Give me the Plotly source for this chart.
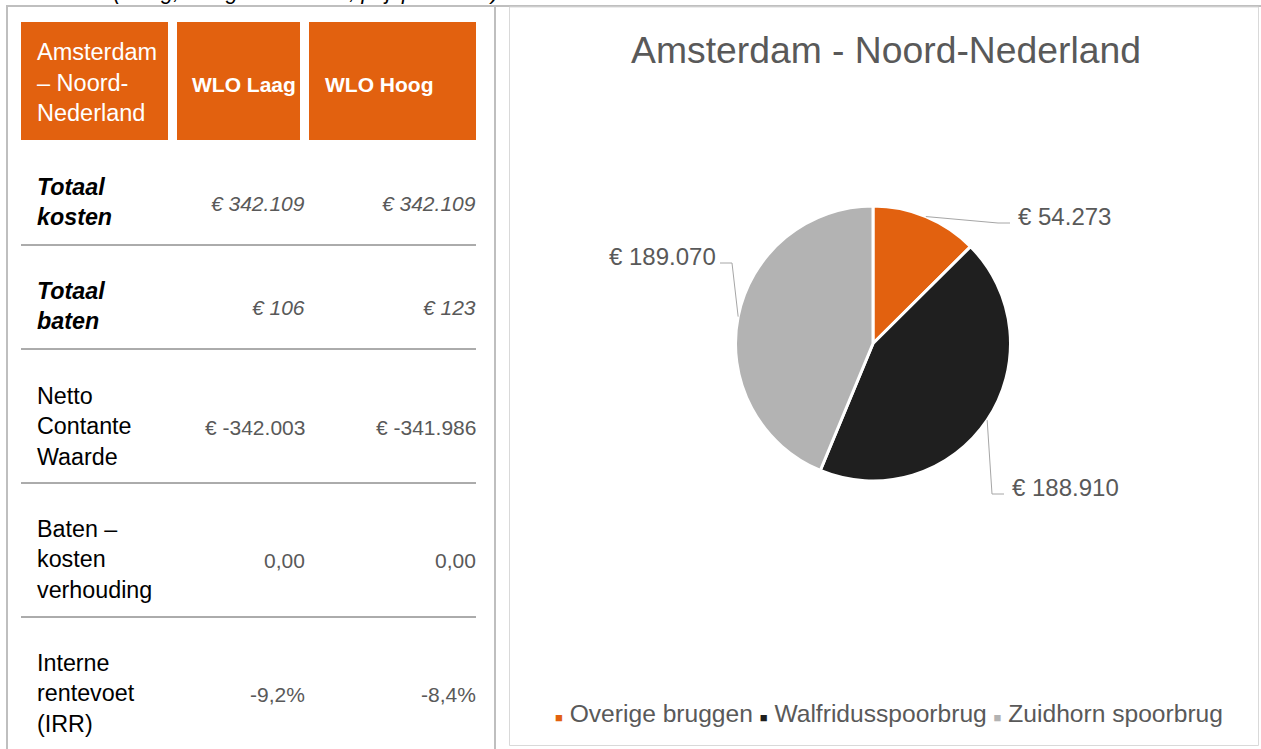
import math
import plotly.graph_objects as go

W, H = 1261, 749

# ---- table data ----
header = ["Amsterdam<br>– Noord-<br>Nederland", "WLO Laag", "WLO Hoog"]
row_labels = ["Totaal<br>kosten", "Totaal<br>baten", "Netto<br>Contante<br>Waarde",
              "Baten –<br>kosten<br>verhouding", "Interne<br>rentevoet<br>(IRR)"]
wlo_laag = [342109, 106, -342003, 0.00, -9.2]
wlo_hoog = [342109, 123, -341986, 0.00, -8.4]
row_kind = ["euro", "euro", "euro", "ratio", "pct"]

# ---- pie data ----
bridges = ["Overige bruggen", "Walfridusspoorbrug", "Zuidhorn spoorbrug"]
costs = [54273, 188910, 189070]

ORANGE = "#E2610F"
colors = [ORANGE, "#1F1F1F", "#B3B3B3"]
GREY_TXT = "#595959"
FONT = "Liberation Sans, Arial, sans-serif"


def fmt(v, kind):
    if kind == "euro":
        s = f"{abs(v):,}".replace(",", ".")
        return f"€ -{s}" if v < 0 else f"€ {s}"
    if kind == "ratio":
        return f"{v:.2f}".replace(".", ",")
    return f"{v:.1f}%".replace(".", ",")


def euro(v):
    return "€ " + f"{v:,}".replace(",", ".")


fig = go.Figure()

# empty cartesian trace so the pixel-like x/y axes exist for shapes and annotations
fig.add_trace(go.Scatter(x=[None], y=[None], showlegend=False, hoverinfo="skip"))

# pie geometry (pixels)
cx, cy, r = 873, 343.5, 137.5
fig.add_trace(go.Pie(
    labels=bridges, values=costs, sort=False, direction="clockwise", rotation=0,
    marker=dict(colors=colors, line=dict(color="white", width=3)),
    textinfo="none", hoverinfo="label+value", showlegend=False,
    domain=dict(x=[(cx - r) / W, (cx + r) / W], y=[1 - (cy + r) / H, 1 - (cy - r) / H]),
))

shapes = []
annotations = []

# panel frames
shapes.append(dict(type="line", x0=6, x1=W, y0=6, y1=6, line=dict(color="#BFBFBF", width=2)))
shapes.append(dict(type="line", x0=7, x1=7, y0=6, y1=H, line=dict(color="#BFBFBF", width=2)))
shapes.append(dict(type="line", x0=495, x1=495, y0=6, y1=H, line=dict(color="#BFBFBF", width=2)))
shapes.append(dict(type="rect", x0=509.5, x1=1258.5, y0=7, y1=745.5,
                   line=dict(color="#D9D9D9", width=1)))

# cut-off caption above the table
annotations.append(dict(x=0, y=6.5, xanchor="left", yanchor="bottom", showarrow=False,
                        text="<i>Scenario 4 (Hoog, Hoog onderhoud, prijspeil 2019)</i>",
                        font=dict(size=22, color="black", family=FONT)))

# header cells
head_x = [(21, 168), (177, 300), (309, 476)]
head_text_x = [35, 190, 323]
for i, (x0, x1) in enumerate(head_x):
    shapes.append(dict(type="rect", x0=x0, x1=x1, y0=22, y1=140, fillcolor=ORANGE,
                       line=dict(width=0), layer="below"))
    txt = header[i] if i == 0 else f"<b>{header[i]}</b>"
    annotations.append(dict(x=head_text_x[i], y=82 if i == 0 else 84, xanchor="left",
                            yanchor="middle", align="left", showarrow=False, text=txt,
                            font=dict(size=23.5 if i == 0 else 21, color="white", family=FONT)))

# table rows
row_y = [203, 307, 427, 560, 694]
line_y = [245, 349, 483, 617]
col_right = [307, 478]
for i, lab in enumerate(row_labels):
    emph = i < 2
    annotations.append(dict(x=35, y=row_y[i] - 1, xanchor="left", yanchor="middle", align="left",
                            showarrow=False, text=f"<b><i>{lab}</i></b>" if emph else lab,
                            font=dict(size=23.3, color="black", family=FONT)))
    for j, vals in enumerate([wlo_laag, wlo_hoog]):
        t = fmt(vals[i], row_kind[i])
        annotations.append(dict(x=col_right[j], y=row_y[i], xanchor="right", yanchor="middle",
                                showarrow=False, text=f"<i>{t}</i>" if emph else t,
                                font=dict(size=21, color=GREY_TXT, family=FONT)))
for y in line_y:
    shapes.append(dict(type="line", x0=21, x1=476, y0=y, y1=y, line=dict(color="#595959", width=1)))

# pie data labels with leader lines
label_end = [(1010, 223), (1004, 494), (720, 263)]
total = sum(costs)
cum = 0
for i, v in enumerate(costs):
    mid = 2 * math.pi * (cum + v / 2) / total
    cum += v
    sx, sy = cx + r * math.sin(mid), cy - r * math.cos(mid)
    ex, ey = label_end[i]
    right = ex > cx
    kx = ex - 12 if right else ex + 12
    shapes.append(dict(type="path", path=f"M{sx},{sy} L{kx},{ey} L{ex},{ey}",
                       line=dict(color="#A6A6A6", width=1)))
    annotations.append(dict(x=ex + 6 if right else ex - 2, y=ey - 7,
                            xanchor="left" if right else "right", yanchor="middle",
                            showarrow=False, text=euro(v),
                            font=dict(size=24, color=GREY_TXT, family=FONT)))

# legend
legend_txt = " ".join(
    f"<span style='font-size:13px;color:{c}'>■</span> {lab}" for lab, c in zip(bridges, colors))
annotations.append(dict(x=889, y=713, xanchor="center", yanchor="middle", showarrow=False,
                        text=legend_txt, font=dict(size=24.6, color=GREY_TXT, family=FONT)))

fig.update_layout(
    width=W, height=H, margin=dict(l=0, r=0, t=0, b=0),
    paper_bgcolor="white", plot_bgcolor="white",
    xaxis=dict(range=[0, W], visible=False, fixedrange=True),
    yaxis=dict(range=[H, 0], visible=False, fixedrange=True),
    title=dict(text="Amsterdam - Noord-Nederland", x=886 / W, y=1 - 50 / H,
               xanchor="center", yanchor="middle",
               font=dict(size=37.3, color=GREY_TXT, family=FONT)),
    shapes=shapes, annotations=annotations, showlegend=False,
)

fig.write_html("out.html", config={"displayModeBar": False},
               post_script="document.body.style.margin='0';")
